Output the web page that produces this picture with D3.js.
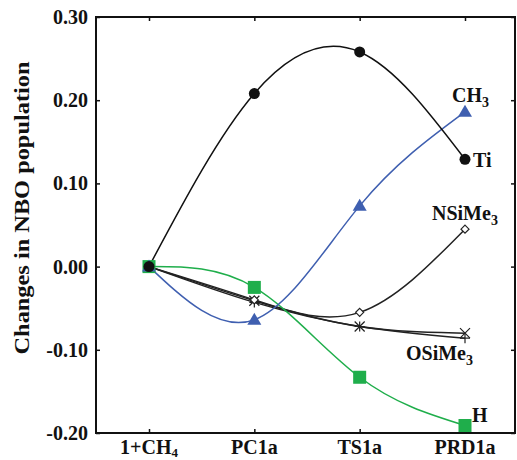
<!DOCTYPE html>
<html><head><meta charset="utf-8">
<script src="https://cdn.jsdelivr.net/npm/d3@7"></script>
<style>body{margin:0;background:#fff}</style>
</head><body>
<svg id="c" width="517" height="460"></svg>
<script>
const categories = ["1+CH4", "PC1a", "TS1a", "PRD1a"];
const tiValues = [0, 0.208, 0.258, 0.129];
const ch3Values = [0, -0.064, 0.073, 0.186];
const nsimeValues = [0, -0.040, -0.055, 0.045];
const osimeXValues = [0, -0.041, -0.072, -0.080];
const osimePlusValues = [0, -0.043, -0.072, -0.086];
const hValues = [0, -0.025, -0.133, -0.191];
const yTicks = [-0.20, -0.10, 0.00, 0.10, 0.20, 0.30];

const svg = d3.select("#c");
const L = 96, R = 515, T = 17, B = 433;
const x = d3.scalePoint().domain(categories).range([149, 465]);
const y = d3.scaleLinear().domain([-0.20, 0.30]).range([B, T]);
const font = "'Liberation Serif', 'Times New Roman', serif";
const FS = 20;

// frame
svg.append("rect").attr("x", L).attr("y", T).attr("width", R - L).attr("height", B - T)
  .attr("fill", "none").attr("stroke", "#111").attr("stroke-width", 2);

// axes (inward ticks)
const gL = svg.append("g").attr("transform", `translate(${L},0)`)
  .call(d3.axisRight(y).tickValues(yTicks).tickSize(4).tickFormat(""));
const gR = svg.append("g").attr("transform", `translate(${R},0)`)
  .call(d3.axisLeft(y).tickValues(yTicks).tickSize(4).tickFormat(""));
const gB = svg.append("g").attr("transform", `translate(0,${B})`)
  .call(d3.axisTop(x).tickSize(4).tickFormat(""));
const gT = svg.append("g").attr("transform", `translate(0,${T})`)
  .call(d3.axisBottom(x).tickSize(4).tickFormat(""));
[gL, gR, gB, gT].forEach(g => {
  g.select(".domain").remove();
  g.selectAll("line").attr("stroke", "#111").attr("stroke-width", 1.5);
});

// y tick labels
svg.append("g").selectAll("text").data(yTicks).join("text")
  .attr("x", 88).attr("y", d => y(d)).attr("dy", "0.35em")
  .attr("text-anchor", "end").attr("font-family", font).attr("font-weight", "bold")
  .attr("font-size", FS).attr("fill", "#111").text(d => d.toFixed(2));

// x tick labels
const xl = svg.append("g").selectAll("text").data(categories).join("text")
  .attr("x", d => x(d)).attr("y", 454)
  .attr("text-anchor", "middle").attr("font-family", font).attr("font-weight", "bold")
  .attr("font-size", FS).attr("fill", "#111");
xl.each(function(d) {
  const t = d3.select(this);
  if (d === "1+CH4") {
    t.append("tspan").text("1+CH");
    t.append("tspan").attr("font-size", 13).attr("dy", 3).text("4");
  } else t.text(d);
});

// y title
svg.append("text").attr("transform", `translate(29,208) rotate(-90)`)
  .attr("text-anchor", "middle").attr("font-family", font).attr("font-weight", "bold")
  .attr("font-size", FS).attr("textLength", 293).attr("lengthAdjust", "spacingAndGlyphs")
  .attr("fill", "#111").text("Changes in NBO population");

const line = d3.line().x((d, i) => x(categories[i])).y(d => y(d)).curve(d3.curveNatural);
const series = [
  {v: osimePlusValues, c: "#222", m: "plus"},
  {v: osimeXValues, c: "#222", m: "x"},
  {v: nsimeValues, c: "#222", m: "diamond"},
  {v: hValues, c: "#1fae4b", m: "square"},
  {v: ch3Values, c: "#3f5fb0", m: "triangle"},
  {v: tiValues, c: "#111", m: "circle"}
];
const plot = svg.append("g");
series.forEach(s => {
  plot.append("path").attr("d", line(s.v)).attr("fill", "none")
    .attr("stroke", s.c).attr("stroke-width", 1.5);
});
series.forEach(s => {
  const g = plot.append("g");
  s.v.forEach((d, i) => {
    const cx = x(categories[i]), cy = y(d);
    if (s.m === "circle") g.append("circle").attr("cx", cx).attr("cy", cy).attr("r", 5.5).attr("fill", "#111");
    else if (s.m === "square") g.append("rect").attr("x", cx - 6.5).attr("y", cy - 6.5).attr("width", 13).attr("height", 13).attr("fill", s.c);
    else if (s.m === "triangle") g.append("path").attr("d", `M${cx},${cy - 7}L${cx + 7},${cy + 5}L${cx - 7},${cy + 5}Z`).attr("fill", s.c);
    else if (s.m === "diamond") g.append("path").attr("d", `M${cx},${cy - 4}L${cx + 4},${cy}L${cx},${cy + 4}L${cx - 4},${cy}Z`).attr("fill", "#fff").attr("stroke", s.c).attr("stroke-width", 1.2);
    else if (s.m === "x") g.append("path").attr("d", `M${cx - 5},${cy - 5}L${cx + 5},${cy + 5}M${cx - 5},${cy + 5}L${cx + 5},${cy - 5}`).attr("stroke", s.c).attr("stroke-width", 1.2);
    else if (s.m === "plus") g.append("path").attr("d", `M${cx - 5},${cy}L${cx + 5},${cy}M${cx},${cy - 5}L${cx},${cy + 5}`).attr("stroke", s.c).attr("stroke-width", 1.2);
  });
});

// series labels
function label(xp, yp, main, sub) {
  const t = svg.append("text").attr("x", xp).attr("y", yp).attr("font-family", font)
    .attr("font-weight", "bold").attr("font-size", FS).attr("fill", "#111");
  t.append("tspan").text(main);
  if (sub) t.append("tspan").attr("font-size", 14).attr("dy", 5).text(sub);
}
label(452, 102, "CH", "3");
label(473, 167, "Ti");
label(432, 220, "NSiMe", "3");
label(406, 360, "OSiMe", "3");
label(472, 422, "H");
</script>
</body></html>
